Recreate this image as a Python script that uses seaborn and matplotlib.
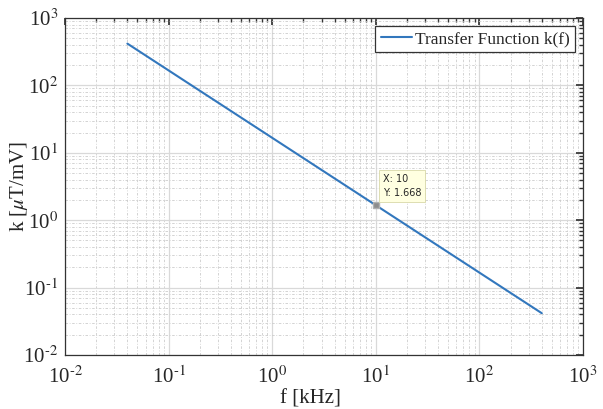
import matplotlib
matplotlib.use("Agg")
import matplotlib.pyplot as plt
import seaborn as sns
import pandas as pd
import numpy as np
from matplotlib.ticker import FuncFormatter, LogLocator

# Data (k = 16.68 / f)
freq_khz = [0.04, 10, 400]
k_values = [417.0, 1.668, 0.0417]
tip_x = 10
tip_y = 1.668
series_label = "Transfer Function k(f)"

sns.set_theme(style="white")
plt.rcParams['font.family'] = ['Liberation Serif', 'DejaVu Serif']
plt.rcParams['mathtext.fontset'] = 'stix'

df = pd.DataFrame({"f": freq_khz, "k": k_values})

W, H = 603, 409
L, R, T, B = 65, 583, 18, 355
fig = plt.figure(figsize=(W/100, H/100), dpi=100)
ax = fig.add_axes([L/W, 1 - B/H, (R-L)/W, (B-T)/H])

sns.lineplot(data=df, x="f", y="k", ax=ax, color="#3277bd", linewidth=1.5,
             label=series_label)
ax.set_xscale("log")
ax.set_yscale("log")
ax.set_xlim(1e-2, 1e3)
ax.set_ylim(1e-2, 1e3)

ax.grid(True, which="major", color="#d9d9d9", linestyle="-", linewidth=0.9)
ax.grid(True, which="minor", color="#cccccc", linestyle=(0, (3, 2, 1, 2)), linewidth=0.6)
ax.set_axisbelow(True)


def fmt(v, pos):
    e = int(round(np.log10(v)))
    if e < 0:
        return r"$\mathregular{10}^{\text{-}%d}$" % abs(e)
    return r"$\mathregular{10}^{%d}$" % e


ax.tick_params(which="both", direction="in", top=True, right=True, labelsize=15,
               color="#333333")
ax.tick_params(axis="x", which="major", length=5, pad=8)
ax.tick_params(axis="y", which="major", length=5, pad=5)
ax.tick_params(which="minor", length=3)
for axis in (ax.xaxis, ax.yaxis):
    axis.set_major_locator(LogLocator(base=10, numticks=10))
    axis.set_minor_locator(LogLocator(base=10, subs=np.arange(2, 10), numticks=20))
    axis.set_major_formatter(FuncFormatter(fmt))
for s in ax.spines.values():
    s.set_color("#333333")
    s.set_linewidth(0.9)

ax.set_xlabel("f [kHz]", fontsize=15)
ax.xaxis.set_label_coords((310 - L)/(R - L), -(399 - B)/(B - T))
ax.xaxis.label.set_va("center")
ax.set_ylabel(r"k [$\mu$T/mV]", fontsize=15)
ax.yaxis.set_label_coords(-(L - 19)/(R - L), 0.5)
ax.yaxis.label.set_va("center")

leg = ax.legend(loc="upper right", fontsize=12.5, frameon=True, fancybox=False,
                edgecolor="#333333", framealpha=1, handlelength=1.8,
                borderaxespad=0.45, handletextpad=0.2, borderpad=0.3)
leg.get_frame().set_linewidth(0.9)

# Data tip
ax.plot([tip_x], [tip_y], marker="s", markersize=5, color="#8c8c8c",
        markeredgecolor="#b0b0b0", linestyle="none", zorder=5)
ax.annotate(f"X: {tip_x}\nY: {tip_y}", xy=(tip_x, tip_y), xytext=(5, 5),
            textcoords="offset points", fontsize=7, family="DejaVu Sans",
            va="bottom", ha="left", linespacing=1.5,
            bbox=dict(boxstyle="square,pad=0.4", facecolor="#ffffe1",
                      edgecolor="#d8d8a8", linewidth=0.6), zorder=6)

fig.savefig("out.png", dpi=100)
